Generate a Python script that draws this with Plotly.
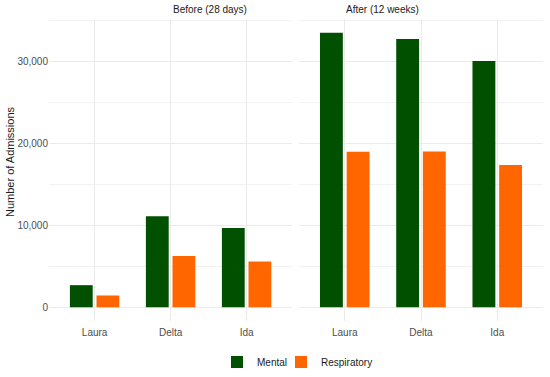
import plotly.graph_objects as go

storms = ["Laura", "Delta", "Ida"]
periods = ["Before (28 days)", "After (12 weeks)"]
mental_before = [2700, 11120, 9700]
resp_before = [1440, 6280, 5590]
mental_after = [33560, 32780, 30100]
resp_after = [19000, 19050, 17380]

GREEN = "#005000"
ORANGE = "#FF6600"
GRID = "#EBEBEB"
FONT = "Liberation Sans, Arial, sans-serif"

fig = go.Figure()
fig.add_trace(go.Bar(x=storms, y=mental_before, name="Mental", marker_color=GREEN,
                     xaxis="x", yaxis="y", legendgroup="m", offsetgroup="m", legend="legend"))
fig.add_trace(go.Bar(x=storms, y=resp_before, name="Respiratory", marker_color=ORANGE,
                     xaxis="x", yaxis="y", legendgroup="r", offsetgroup="r", legend="legend2"))
fig.add_trace(go.Bar(x=storms, y=mental_after, name="Mental", marker_color=GREEN,
                     xaxis="x2", yaxis="y2", legendgroup="m", offsetgroup="m", showlegend=False))
fig.add_trace(go.Bar(x=storms, y=resp_after, name="Respiratory", marker_color=ORANGE,
                     xaxis="x2", yaxis="y2", legendgroup="r", offsetgroup="r", showlegend=False))
fig.update_traces(marker_line_width=0)

ymax = max(mental_after)
yr = [-0.05 * ymax, 1.05 * ymax]

xcommon = dict(showgrid=True, gridcolor=GRID, gridwidth=1, zeroline=False, showline=False,
               range=[-0.6, 2.6], ticks="", automargin=False, ticklabelstandoff=4,
               tickfont=dict(size=10, color="#4D4D4D", family=FONT),
               categoryorder="array", categoryarray=storms, fixedrange=True)
ycommon = dict(range=yr, dtick=10000, tick0=0, showgrid=True, gridcolor=GRID, gridwidth=1,
               zeroline=False, showline=False, ticks="", tickformat=",", automargin=False,
               minor=dict(dtick=5000, showgrid=True, gridcolor="#F2F2F2", gridwidth=0.6),
               tickfont=dict(size=10, color="#4D4D4D", family=FONT), fixedrange=True)

W, H = 550, 377
lm, rm, tm, bm = 49, 7, 19, 56
pw = W - lm - rm
ph = H - tm - bm
d1 = (292.6 - 49.4) / pw
d2 = (299.4 - 49.4) / pw

def px_x(p):
    return (p - lm) / pw

def px_y(p):
    return (H - bm - p) / ph

legend_common = dict(orientation="h", xanchor="left", yanchor="middle", y=px_y(362),
                     font=dict(size=10, color="#1A1A1A"), itemwidth=30,
                     bgcolor="rgba(0,0,0,0)")

fig.update_layout(
    width=W, height=H,
    margin=dict(l=lm, r=rm, t=tm, b=bm, autoexpand=False),
    paper_bgcolor="white", plot_bgcolor="white",
    font=dict(family=FONT, size=10, color="#1A1A1A"),
    barmode="group", bargap=0.3, bargroupgap=0.143,
    xaxis=dict(domain=[0, d1], anchor="y", **xcommon),
    xaxis2=dict(domain=[d2, 1], anchor="y2", **xcommon),
    yaxis=dict(anchor="x", **ycommon),
    yaxis2=dict(anchor="x2", matches="y", showticklabels=False, **ycommon),
    legend=dict(x=px_x(217), **legend_common),
    legend2=dict(x=px_x(281), **legend_common),
    annotations=[
        dict(text=periods[0], x=d1 / 2, y=1.0, xref="paper", yref="paper", yanchor="bottom",
             showarrow=False, font=dict(size=10, color="#1A1A1A"), yshift=2),
        dict(text=periods[1], x=(d2 + 1) / 2, y=1.0, xref="paper", yref="paper", yanchor="bottom",
             showarrow=False, font=dict(size=10, color="#1A1A1A"), yshift=2),
        dict(text="Number of Admissions", textangle=-90, x=px_x(10), y=px_y(162),
             xref="paper", yref="paper", xanchor="center", yanchor="middle", showarrow=False,
             font=dict(size=11, color="#1A1A1A")),
    ],
)

fig.write_html("out.html", post_script="document.body.style.margin='0';",
               config={"displayModeBar": False})
